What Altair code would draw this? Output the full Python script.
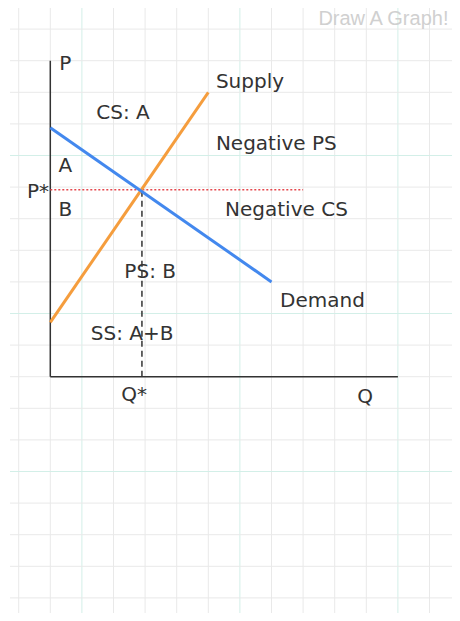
import altair as alt
import pandas as pd

# ---- data (grid units, origin at axis corner) ----
supply_q = [0, 5]
supply_p = [1.72, 9.0]
demand_q = [0, 7]
demand_p = [7.88, 3.0]
q_star = 2.9
p_star = 5.92
pstar_line_end = 8
x_axis_len = 11
y_axis_len = 10

label_text = ["P", "CS: A", "Supply", "Negative PS", "A", "P*", "B",
              "Negative CS", "PS: B", "Demand", "SS: A+B", "Q*", "Q"]
label_q = [0.28, 2.30, 5.24, 5.24, 0.48, -0.04, 0.48, 5.53, 3.16, 7.27, 2.59, 2.65, 9.96]
label_p = [9.9, 8.34, 9.33, 7.36, 6.67, 5.84, 5.28, 5.28, 3.31, 2.40, 1.35, -0.58, -0.64]
label_align = ["left", "center", "left", "left", "center", "right", "center",
               "left", "center", "left", "center", "center", "center"]

grid_x = list(range(-1, 13))
grid_y = list(range(-7, 12))

# ---- geometry of the view ----
W, H = 444, 605
UNIT = 31.6
X0, Y0 = 42.3, 368.7  # view-pixel position of origin
xdom = [-X0 / UNIT, (W - X0) / UNIT]
ydom = [(Y0 - H) / UNIT, Y0 / UNIT]

xs = alt.Scale(domain=xdom, nice=False, zero=False)
ys = alt.Scale(domain=ydom, nice=False, zero=False)

def X(f="x", **kw):
    return alt.X(f"{f}:Q", scale=xs, axis=None, **kw)

def Y(f="y", **kw):
    return alt.Y(f"{f}:Q", scale=ys, axis=None, **kw)

gx = [g for g in grid_x if xdom[0] <= g <= xdom[1]]
gy = [g for g in grid_y if ydom[0] <= g <= ydom[1]]
vgrid = pd.DataFrame({"x": gx, "y": ydom[0], "y2": ydom[1],
                      "major": [(g - 1) % 5 == 0 for g in gx]})
hgrid = pd.DataFrame({"y": gy, "x": (10 - 8 - X0) / UNIT, "x2": xdom[1],
                      "major": [(g - 2) % 5 == 0 for g in gy]})

gcolor = alt.Color("major:N", scale=alt.Scale(domain=[False, True],
                   range=["#e9e9e9", "#d3efe8"]), legend=None)

vg = alt.Chart(vgrid).mark_rule(strokeWidth=1).encode(
    x=X(), y=Y("y"), y2="y2", color=gcolor, order="major:N")
hg = alt.Chart(hgrid).mark_rule(strokeWidth=1).encode(
    y=Y(), x=X("x"), x2="x2", color=gcolor)

axes_df = pd.DataFrame({"x": [0, 0], "y": [0, 0],
                        "x2": [x_axis_len, 0], "y2": [0, y_axis_len]})
axes = alt.Chart(axes_df).mark_rule(color="#333333", strokeWidth=1.5).encode(
    x=X(), y=Y(), x2="x2", y2="y2")

supply = alt.Chart(pd.DataFrame({"x": supply_q, "y": supply_p})).mark_line(
    color="#f59d3d", strokeWidth=3).encode(x=X(), y=Y())
demand = alt.Chart(pd.DataFrame({"x": demand_q, "y": demand_p})).mark_line(
    color="#4388ee", strokeWidth=3).encode(x=X(), y=Y())

pline = alt.Chart(pd.DataFrame({"x": [0], "x2": [pstar_line_end], "y": [p_star]})).mark_rule(
    color="#e5484d", strokeWidth=1.5, strokeDash=[2, 2]).encode(x=X(), x2="x2", y=Y())
qline = alt.Chart(pd.DataFrame({"x": [q_star], "y": [0], "y2": [p_star]})).mark_rule(
    color="#333333", strokeWidth=1.5, strokeDash=[6, 4]).encode(x=X(), y=Y(), y2="y2")

labels = pd.DataFrame({"t": label_text, "x": label_q, "y": label_p, "a": label_align})
text_layers = []
for al in ["left", "center", "right"]:
    text_layers.append(
        alt.Chart(labels[labels.a == al]).mark_text(
            align=al, baseline="middle", font="DejaVu Sans", fontSize=20,
            color="#333333").encode(x=X(), y=Y(), text="t:N"))

wm = alt.Chart(pd.DataFrame({"t": ["Draw A Graph!"], "x": [12.6], "y": [11.32]})).mark_text(
    align="right", baseline="middle", font="Liberation Sans", fontSize=20,
    color="#d0d0d0").encode(x=X(), y=Y(), text="t:N")

chart = alt.layer(vg, hg, axes, pline, qline, supply, demand, *text_layers, wm).properties(
    width=W, height=H, autosize=alt.AutoSizeParams(type="none"), padding=0
).configure_view(strokeWidth=0)

chart.save("out.html", embed_options={"renderer": "svg", "actions": False})
